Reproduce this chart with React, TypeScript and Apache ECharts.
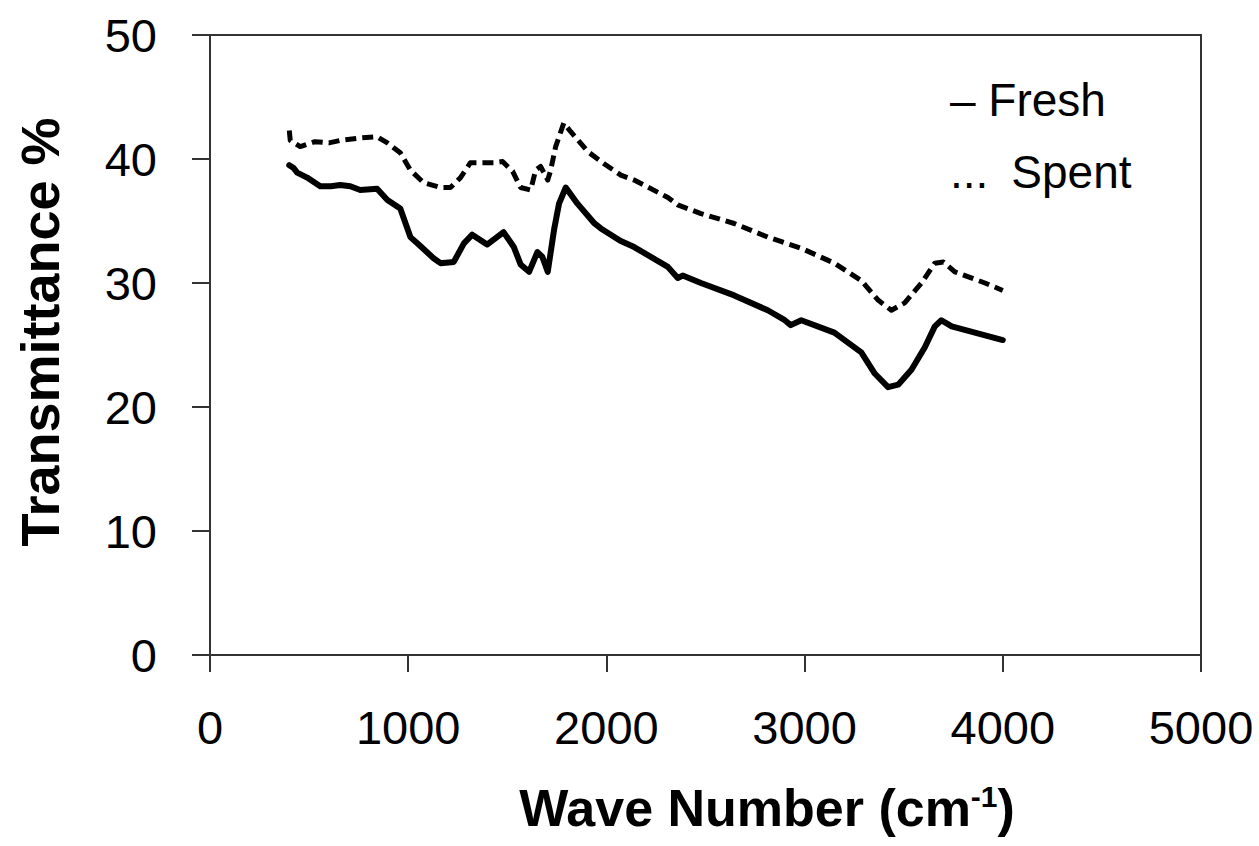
import React, { useEffect, useRef } from "react";
import * as echarts from "echarts";

const freshWave = [400, 420, 440, 490, 556, 610, 657, 708, 758, 843, 895, 960, 1011, 1046, 1128, 1163, 1230, 1281, 1323, 1398, 1481, 1533, 1567, 1610, 1652, 1677, 1704, 1736, 1761, 1795, 1854, 1940, 1972, 2070, 2140, 2310, 2360, 2385, 2477, 2645, 2814, 2900, 2930, 2983, 3150, 3286, 3354, 3421, 3472, 3539, 3606, 3657, 3690, 3742, 4000];
const freshT = [39.5, 39.3, 38.9, 38.5, 37.8, 37.8, 37.9, 37.8, 37.5, 37.6, 36.7, 36.0, 33.7, 33.2, 32.0, 31.6, 31.7, 33.2, 33.9, 33.1, 34.1, 32.9, 31.5, 30.9, 32.5, 32.1, 30.9, 34.3, 36.4, 37.7, 36.4, 34.8, 34.4, 33.4, 32.9, 31.3, 30.4, 30.6, 30.0, 29.0, 27.8, 27.0, 26.6, 27.0, 26.0, 24.4, 22.7, 21.6, 21.8, 23.0, 24.8, 26.5, 27.0, 26.5, 25.4];

const spentWave = [400, 405, 455, 530, 600, 657, 758, 843, 895, 960, 1011, 1077, 1163, 1213, 1264, 1314, 1365, 1431, 1476, 1527, 1567, 1618, 1643, 1668, 1704, 1719, 1744, 1785, 1820, 1906, 1990, 2073, 2140, 2310, 2360, 2477, 2645, 2814, 2983, 3150, 3286, 3372, 3438, 3505, 3590, 3657, 3700, 3758, 3910, 4000];
const spentT = [42.3, 41.5, 41.0, 41.4, 41.3, 41.5, 41.7, 41.8, 41.3, 40.5, 39.1, 38.1, 37.7, 37.7, 38.5, 39.7, 39.7, 39.7, 39.8, 39.0, 37.7, 37.5, 39.1, 39.4, 38.3, 39.1, 41.0, 42.9, 42.2, 40.6, 39.6, 38.7, 38.3, 36.9, 36.3, 35.6, 34.8, 33.7, 32.8, 31.6, 30.2, 28.6, 27.8, 28.4, 30.0, 31.6, 31.7, 30.9, 30.0, 29.4];

const xTicks = { min: 0, max: 5000, interval: 1000 };
const yTicks = { min: 0, max: 50, interval: 10 };
const seriesNames = ["Fresh", "Spent"];
const legendLabels: Record<string, string> = { Fresh: "\u2013 Fresh", Spent: "...\u2002Spent" };
const xTitle = "Wave Number (cm";
const xTitleSup = "-1";
const yTitle = "Transmittance %";

const tickFont = "'Liberation Sans Narrow', 'Liberation Sans', Arial, sans-serif";
const titleFont = "'Liberation Sans', Arial, sans-serif";

export default function App() {
  const ref = useRef<HTMLDivElement>(null);
  useEffect(() => {
    if (!ref.current) return;
    const chart = echarts.init(ref.current, null, { renderer: "svg" });
    const axisColor = "#333";
    chart.setOption({
      animation: false,
      backgroundColor: "#fff",
      grid: {
        left: 210,
        right: 58,
        top: 35,
        bottom: 191,
        show: true,
        borderColor: axisColor,
        borderWidth: 2,
      },
      legend: {
        data: seriesNames,
        orient: "vertical",
        left: 940,
        top: 72,
        itemGap: 26,
        icon: "none",
        itemWidth: 0,
        itemHeight: 0,
        formatter: (n: string) => legendLabels[n],
        textStyle: { fontFamily: tickFont, fontSize: 46, color: "#000" },
      },
      xAxis: {
        type: "value",
        min: xTicks.min,
        max: xTicks.max,
        interval: xTicks.interval,
        splitLine: { show: false },
        axisLine: { lineStyle: { color: axisColor, width: 2 } },
        axisTick: { length: 17, lineStyle: { color: axisColor, width: 2 } },
        axisLabel: {
          margin: 49,
          fontFamily: tickFont,
          fontSize: 47,
          color: "#000",
          formatter: (v: number) => String(v),
        },
      },
      yAxis: {
        type: "value",
        min: yTicks.min,
        max: yTicks.max,
        interval: yTicks.interval,
        splitLine: { show: false },
        axisLine: { lineStyle: { color: axisColor, width: 2 } },
        axisTick: { length: 18, lineStyle: { color: axisColor, width: 2 } },
        axisLabel: {
          margin: 53,
          fontFamily: tickFont,
          fontSize: 47,
          color: "#000",
          formatter: (v: number) => String(v),
        },
      },
      graphic: [
        {
          type: "text",
          x: 40,
          y: 332,
          rotation: Math.PI / 2,
          style: {
            text: yTitle,
            font: `bold 54px ${titleFont}`,
            fill: "#000",
            align: "center",
            verticalAlign: "middle",
          },
        },
        {
          type: "text",
          x: 767,
          y: 808,
          style: {
            text: `{a|${xTitle}}{s|${xTitleSup}}{a|)}`,
            fill: "#000",
            align: "center",
            verticalAlign: "middle",
            rich: {
              a: { fontFamily: titleFont, fontWeight: "bold", fontSize: 52, color: "#000" },
              s: { fontFamily: titleFont, fontWeight: "bold", fontSize: 30, color: "#000", padding: [0, 0, 24, 0] },
            },
          },
        },
      ],
      series: [
        {
          name: seriesNames[0],
          type: "line",
          showSymbol: false,
          data: freshWave.map((w, i) => [w, freshT[i]]),
          lineStyle: { color: "#000", width: 6, join: "round", cap: "round" },
          itemStyle: { color: "#000" },
        },
        {
          name: seriesNames[1],
          type: "line",
          showSymbol: false,
          data: spentWave.map((w, i) => [w, spentT[i]]),
          lineStyle: { color: "#000", width: 5, type: [11, 6], join: "round" },
          itemStyle: { color: "#000" },
        },
      ],
    });
    return () => chart.dispose();
  }, []);
  return (
    <div
      ref={ref}
      style={{ position: "fixed", left: 0, top: 0, width: 1259, height: 846, background: "#fff" }}
    />
  );
}
